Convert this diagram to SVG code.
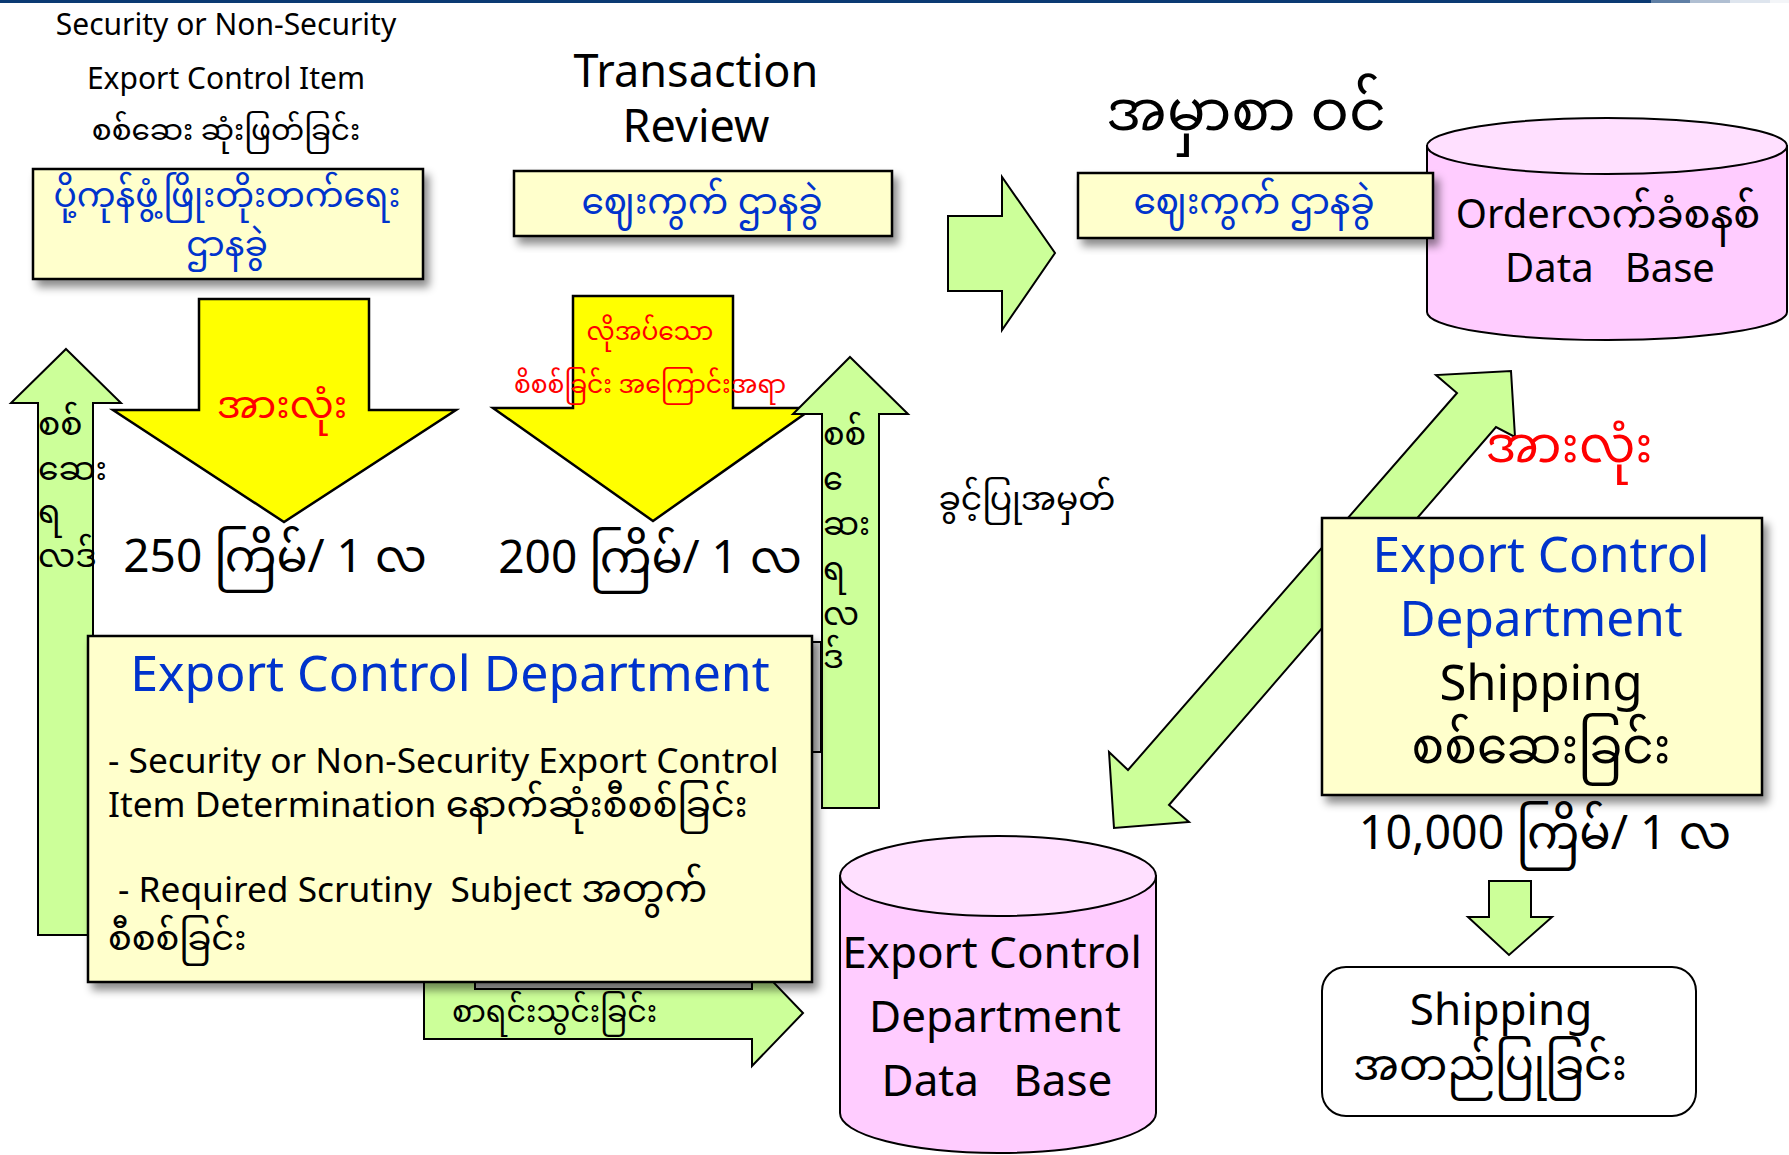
<svg xmlns="http://www.w3.org/2000/svg" width="1789" height="1155" viewBox="0 0 1789 1155">
<style>
  text { font-family: "Noto Sans", "Noto Sans Myanmar", "Padauk", "Myanmar Text", "DejaVu Sans", sans-serif; fill: #000; }
  .c { text-anchor: middle; }
  .blue { fill: #0033CC; }
  .red { fill: #FF0000; }
  .box { fill: #FFFFCC; stroke: #000; stroke-width: 2.5; filter: url(#sh); }
  .green { fill: #CCFF99; stroke: #000; stroke-width: 2; stroke-linejoin: miter; }
  .yellow { fill: #FFFF00; stroke: #000; stroke-width: 2.5; }
  .cyl { fill: #FFCCFF; stroke: #000; stroke-width: 2; }
  .cyltop { fill: #FFE0FF; stroke: #000; stroke-width: 2; }
</style>
<defs>
  <filter id="sh" x="-10%" y="-10%" width="125%" height="135%">
    <feDropShadow dx="5" dy="7" stdDeviation="4" flood-color="#000" flood-opacity="0.45"/>
  </filter>
</defs>
<rect width="1789" height="1155" fill="#fff"/>
<g id="topbar">
  <rect x="0" y="0" width="1651" height="3" fill="#0B3A73"/>
  <rect x="1651" y="0" width="39" height="3" fill="#5F7FA5"/>
  <rect x="1690" y="0" width="40" height="3" fill="#B0BFD2"/>
  <rect x="1730" y="0" width="40" height="3" fill="#DEE5EE"/>
  <rect x="1770" y="0" width="19" height="3" fill="#F3F5F8"/>
</g>

<g id="title-security">
  <text class="c" x="226" y="35" font-size="30">Security or Non-Security</text>
  <text class="c" x="226" y="89" font-size="30">Export Control Item</text>
  <text class="c" x="226" y="140" font-size="29.5">စစ်ဆေး ဆုံးဖြတ်ခြင်း</text>
</g>
<g id="title-transaction">
  <text class="c" x="696" y="87" font-size="45">Transaction</text>
  <text class="c" x="696" y="142" font-size="45">Review</text>
</g>
<g id="title-order">
  <text class="c" x="1246" y="130" font-size="57">အမှာစာ ဝင်</text>
</g>

<g id="order-db">
  <path class="cyl" d="M1427,146 L1427,312 A180,28 0 0 0 1787,312 L1787,146 Z"/>
  <ellipse class="cyltop" cx="1607" cy="146" rx="180" ry="28"/>
  <text class="c" x="1608" y="228" font-size="40">Orderလက်ခံစနစ်</text>
  <text class="c" x="1610" y="282" font-size="40" xml:space="preserve">Data   Base</text>
</g>

<g id="box-promotion">
  <rect class="box" x="33" y="169" width="390" height="110"/>
  <text class="c blue" x="227" y="207" font-size="34.5">ပို့ကုန်ဖွံ့ဖြိုးတိုးတက်ရေး</text>
  <text class="c blue" x="227" y="256" font-size="34.5">ဌာနခွဲ</text>
</g>
<g id="box-market1">
  <rect class="box" x="514" y="171" width="378" height="65"/>
  <text class="c blue" x="702" y="214" font-size="36">ဈေးကွက် ဌာနခွဲ</text>
</g>
<g id="box-market2">
  <rect class="box" x="1078" y="173" width="355" height="65"/>
  <text class="c blue" x="1254" y="214" font-size="36">ဈေးကွက် ဌာနခွဲ</text>
</g>

<g id="connectors">
  <polygon id="arrow-right-top" class="green" points="948,216 1002,216 1002,177 1055,253 1002,330 1002,291 948,291"/>
  <polygon id="arrow-down-all" class="yellow" points="199,299 369,299 369,410 456,410 284,522 113,410 199,410"/>
  <polygon id="arrow-down-req" class="yellow" points="573,296 733,296 733,408 813,408 653,521 493,408 573,408"/>
  <polygon id="arrow-up-left" class="green" points="66,349 121,403 93,403 93,935 38,935 38,403 11,403"/>
  <rect id="hidden-box-right" x="700" y="642" width="121" height="110" fill="#D9D9D9" stroke="#000" stroke-width="2"/>
  <polygon id="arrow-up-right" class="green" points="850,357 908,414 879,414 879,808 822,808 822,414 793,414"/>
  <polygon id="arrow-register" class="green" points="424,975 752,975 752,960 803,1013 752,1066 752,1039 424,1039"/>
  <rect id="hidden-box-bottom" x="475" y="950" width="277" height="39" fill="#BFBFBF" stroke="#000" stroke-width="2"/>
  <polygon id="arrow-diagonal" class="green" points="1511,371 1515,437 1496,427 1169,805 1189,822 1114,828 1109,752 1128,770 1457,393 1436,375"/>
  <polygon id="arrow-down-ship" class="green" points="1489,881 1531,881 1531,917 1552,917 1509,955 1468,917 1489,917"/>
</g>

<g id="labels">
  <text class="c red" x="282" y="418" font-size="39">အားလုံး</text>
  <text class="c red" x="650" y="340" font-size="25">လိုအပ်သော</text>
  <text class="c red" x="650" y="393" font-size="25">စိစစ်ခြင်း အကြောင်းအရာ</text>
  <text x="38" y="435" font-size="33">စစ်</text>
  <text x="38" y="480" font-size="33">ဆေး</text>
  <text x="38" y="523" font-size="33">ရ</text>
  <text x="38" y="567" font-size="33">လဒ်</text>
  <text x="823" y="445" font-size="32">စစ်</text>
  <text x="823" y="490" font-size="32">&#160;ေ</text>
  <text x="823" y="535" font-size="32">ဆး</text>
  <text x="823" y="580" font-size="32">ရ</text>
  <text x="823" y="625" font-size="32">လ</text>
  <text x="823" y="668" font-size="32">ဒ်</text>
  <text class="c" x="275" y="572" font-size="46">250 ကြိမ်/ 1 လ</text>
  <text class="c" x="650" y="573" font-size="46">200 ကြိမ်/ 1 လ</text>
  <text x="452" y="1022" font-size="30">စာရင်းသွင်းခြင်း</text>
  <text class="c" x="1027" y="510" font-size="33">ခွင့်ပြုအမှတ်</text>
  <text class="c red" x="1569" y="462" font-size="50">အားလုံး</text>
  <text class="c" x="1545" y="849" font-size="46.5">10,000 ကြိမ်/ 1 လ</text>
</g>

<g id="box-ecd-main">
  <rect class="box" x="88" y="636" width="724" height="346"/>
  <text class="c blue" x="450" y="691" font-size="50">Export Control Department</text>
  <text x="108" y="773" font-size="35.3">- Security or Non-Security Export Control</text>
  <text x="108" y="817" font-size="35.3">Item Determination <tspan font-size="37">နောက်ဆုံးစီစစ်ခြင်း</tspan></text>
  <text x="118" y="902" font-size="35.3" xml:space="preserve">- Required Scrutiny  Subject <tspan font-size="38">အတွက်</tspan></text>
  <text x="108" y="950" font-size="35.3">စီစစ်ခြင်း</text>
</g>

<g id="ecd-db">
  <path class="cyl" d="M840,876 L840,1113 A158,40 0 0 0 1156,1113 L1156,876 Z"/>
  <ellipse class="cyltop" cx="998" cy="876" rx="158" ry="40"/>
  <text class="c" x="992" y="968" font-size="44">Export Control</text>
  <text class="c" x="995" y="1032" font-size="44">Department</text>
  <text class="c" x="997" y="1096" font-size="44" xml:space="preserve">Data   Base</text>
</g>

<g id="box-ecd-shipping">
  <rect class="box" x="1322" y="518" width="440" height="277"/>
  <text class="c blue" x="1541" y="572" font-size="49.5">Export Control</text>
  <text class="c blue" x="1541" y="636" font-size="49.5">Department</text>
  <text class="c" x="1541" y="700" font-size="49">Shipping</text>
  <text class="c" x="1541" y="763" font-size="48.5">စစ်ဆေးခြင်း</text>
</g>

<g id="box-shipping-ok">
  <rect x="1322" y="967" width="374" height="149" rx="24" fill="#fff" stroke="#000" stroke-width="2"/>
  <text class="c" x="1501" y="1025" font-size="44">Shipping</text>
  <text class="c" x="1490" y="1080" font-size="43">အတည်ပြုခြင်း</text>
</g>
</svg>
